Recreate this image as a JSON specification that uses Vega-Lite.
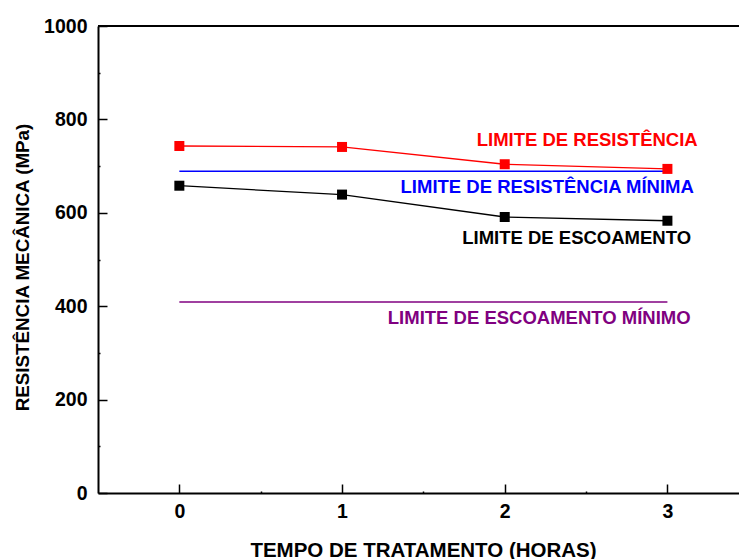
{
  "$schema": "https://vega.github.io/schema/vega-lite/v6.json",
  "autosize": "none",
  "padding": {"left": 98, "top": 26, "right": 0, "bottom": 66},
  "width": 641,
  "height": 467,
  "config": {
    "view": {"stroke": null},
    "font": "Liberation Sans",
    "axis": {
      "grid": false,
      "domainColor": "black",
      "domainWidth": 2,
      "tickColor": "black",
      "tickWidth": 1.5,
      "labelFont": "Liberation Sans",
      "labelFontWeight": "bold",
      "labelFontSize": 19.5,
      "labelColor": "black",
      "titleFont": "Liberation Sans",
      "titleFontWeight": "bold",
      "titleColor": "black"
    }
  },
  "resolve": {"axis": {"x": "independent", "y": "independent"}},
  "datasets": {
    "measured": [
      {"serie": "LIMITE DE RESISTÊNCIA", "t": 0, "v": 743},
      {"serie": "LIMITE DE RESISTÊNCIA", "t": 1, "v": 741},
      {"serie": "LIMITE DE RESISTÊNCIA", "t": 2, "v": 704},
      {"serie": "LIMITE DE RESISTÊNCIA", "t": 3, "v": 694},
      {"serie": "LIMITE DE ESCOAMENTO", "t": 0, "v": 658},
      {"serie": "LIMITE DE ESCOAMENTO", "t": 1, "v": 639},
      {"serie": "LIMITE DE ESCOAMENTO", "t": 2, "v": 591},
      {"serie": "LIMITE DE ESCOAMENTO", "t": 3, "v": 583}
    ],
    "minimos": [
      {"serie": "LIMITE DE RESISTÊNCIA MÍNIMA", "t0": 0, "t1": 3, "v": 689},
      {"serie": "LIMITE DE ESCOAMENTO MÍNIMO", "t0": 0, "t1": 3, "v": 409}
    ],
    "rotulos": [
      {"serie": "LIMITE DE RESISTÊNCIA", "t": 2.507, "v": 755.7},
      {"serie": "LIMITE DE RESISTÊNCIA MÍNIMA", "t": 2.261, "v": 655.7},
      {"serie": "LIMITE DE ESCOAMENTO", "t": 2.442, "v": 545.8},
      {"serie": "LIMITE DE ESCOAMENTO MÍNIMO", "t": 2.212, "v": 373.7}
    ],
    "topo": [{"v": 1000}]
  },
  "layer": [
    {
      "data": {"name": "topo"},
      "mark": {"type": "rule", "color": "black", "strokeWidth": 2},
      "encoding": {
        "y": {"field": "v", "type": "quantitative",
          "axis": {"orient": "left", "values": [100, 300, 500, 700, 900], "labels": false, "domain": false, "tickSize": -2, "title": null}}
      }
    },
    {
      "data": {"name": "minimos"},
      "mark": {"type": "rule", "strokeWidth": 1.4},
      "encoding": {
        "x": {"field": "t0", "type": "quantitative",
          "axis": {"orient": "bottom", "values": [0.5, 1.5, 2.5], "labels": false, "domain": false, "tickSize": -2, "title": null}},
        "x2": {"field": "t1"},
        "y": {"field": "v", "type": "quantitative", "axis": null},
        "color": {"field": "serie", "type": "nominal", "legend": null,
          "scale": {"domain": ["LIMITE DE RESISTÊNCIA", "LIMITE DE ESCOAMENTO", "LIMITE DE RESISTÊNCIA MÍNIMA", "LIMITE DE ESCOAMENTO MÍNIMO"],
                    "range": ["#ff0000", "#000000", "#0000ff", "#800080"]}}
      }
    },
    {
      "data": {"name": "measured"},
      "mark": {"type": "line", "strokeWidth": 1.3},
      "encoding": {
        "x": {"field": "t", "type": "quantitative", "axis": null},
        "y": {"field": "v", "type": "quantitative", "axis": null},
        "color": {"field": "serie", "type": "nominal", "legend": null}
      }
    },
    {
      "data": {"name": "measured"},
      "mark": {"type": "point", "shape": "square", "filled": true, "size": 100, "opacity": 1},
      "encoding": {
        "x": {"field": "t", "type": "quantitative",
          "scale": {"domain": [-0.5, 3.44], "nice": false, "zero": false},
          "axis": {
            "orient": "bottom",
            "values": [0, 1, 2, 3],
            "format": "d",
            "tickSize": -9,
            "labelPadding": 18,
            "title": "TEMPO DE TRATAMENTO (HORAS)",
            "titleFontSize": 20.5,
            "titleX": 325,
            "titleY": 63,
            "titleAlign": "center",
            "titleBaseline": "alphabetic"
          }},
        "y": {"field": "v", "type": "quantitative",
          "scale": {"domain": [0, 1000], "nice": false},
          "axis": {
            "orient": "left",
            "values": [0, 200, 400, 600, 800, 1000],
            "format": "d",
            "tickSize": -9,
            "labelPadding": 20,
            "title": "RESISTÊNCIA MECÂNICA (MPa)",
            "titleFontSize": 18.8,
            "titleX": -76,
            "titleY": 241,
            "titleAngle": -90,
            "titleAlign": "center",
            "titleBaseline": "middle"
          }},
        "color": {"field": "serie", "type": "nominal", "legend": null}
      }
    },
    {
      "data": {"name": "rotulos"},
      "mark": {"type": "text", "fontWeight": "bold", "fontSize": 18.5, "align": "center", "baseline": "middle", "font": "Liberation Sans"},
      "encoding": {
        "x": {"field": "t", "type": "quantitative", "axis": null},
        "y": {"field": "v", "type": "quantitative", "axis": null},
        "text": {"field": "serie"},
        "color": {"field": "serie", "type": "nominal", "legend": null}
      }
    }
  ]
}
